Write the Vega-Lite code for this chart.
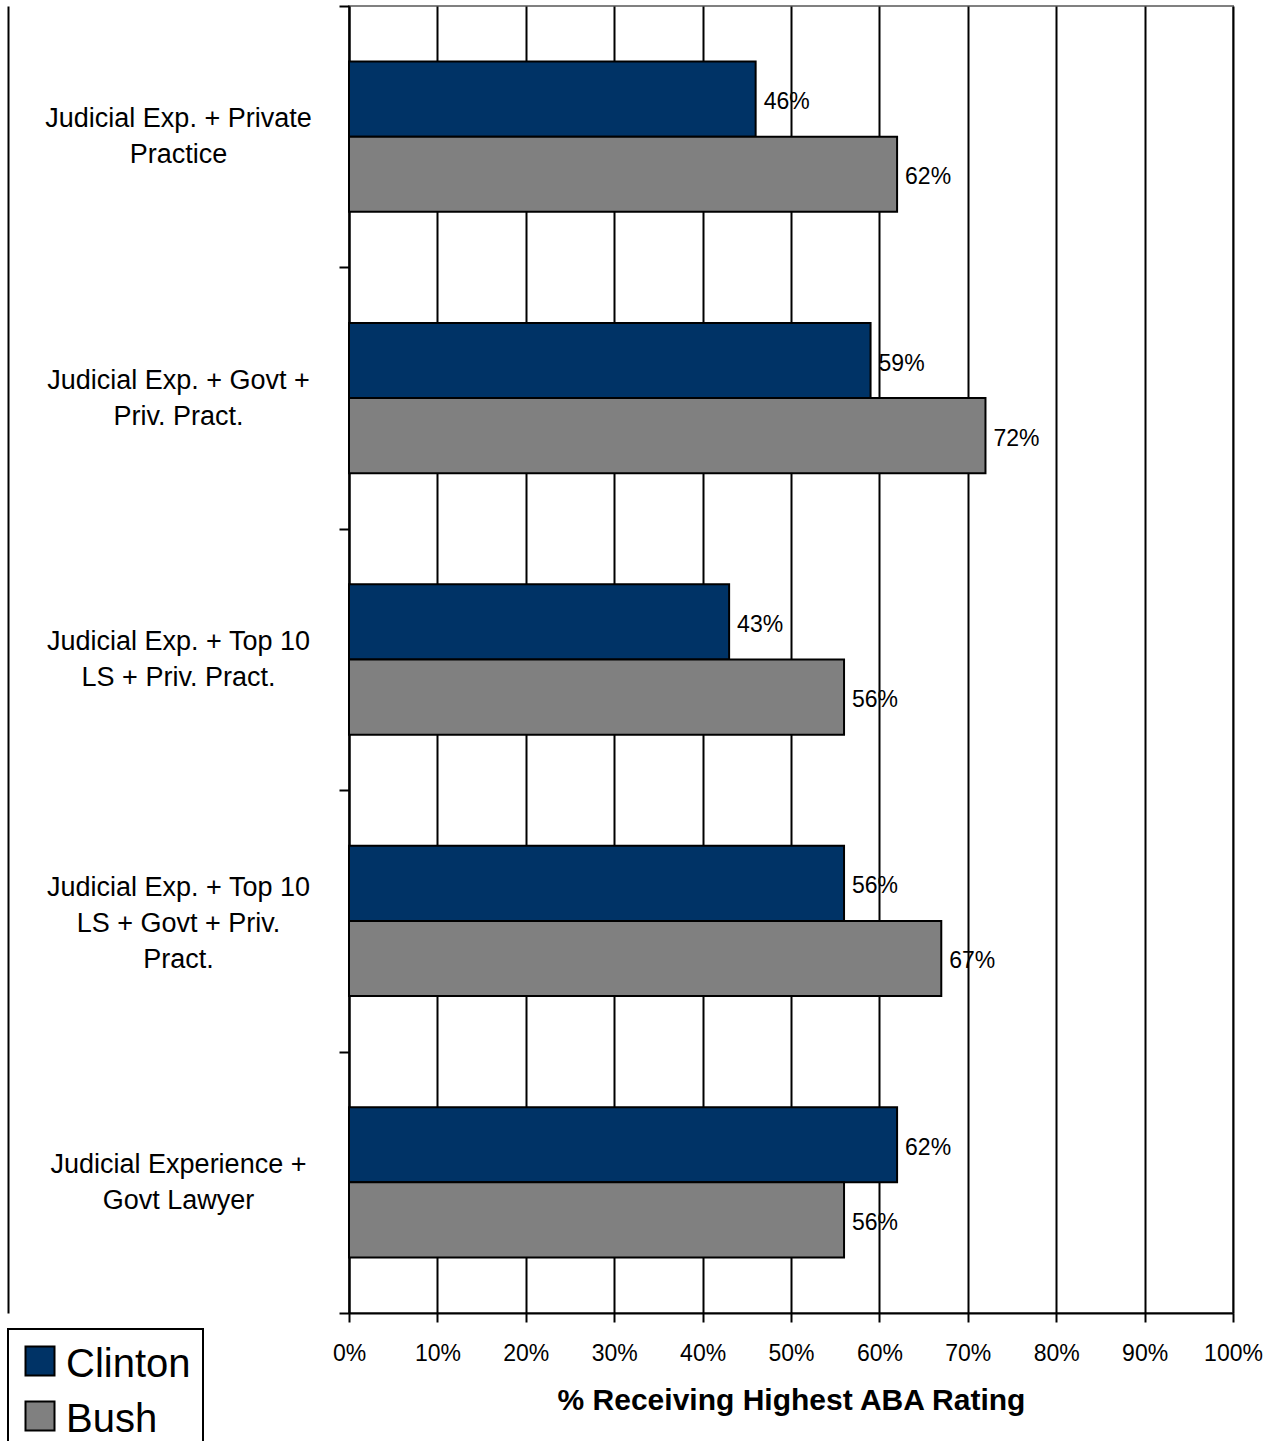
{
  "$schema": "https://vega.github.io/schema/vega-lite/v6.json",
  "width": 884,
  "height": 1307,
  "autosize": {"type": "none"},
  "padding": {"left": 349, "top": 6, "right": 51, "bottom": 128},
  "background": "white",
  "config": {
    "font": "Liberation Sans",
    "view": {"stroke": "#808080", "strokeWidth": 2},
    "axis": {"domainColor": "black", "domainWidth": 2, "tickColor": "black", "tickWidth": 2, "labelColor": "black", "titleColor": "black"}
  },
  "data": {
    "values": [
      {"group": "Judicial Exp. + Private|Practice", "president": "Clinton", "share": 0.46},
      {"group": "Judicial Exp. + Private|Practice", "president": "Bush", "share": 0.62},
      {"group": "Judicial Exp. + Govt +|Priv. Pract.", "president": "Clinton", "share": 0.59},
      {"group": "Judicial Exp. + Govt +|Priv. Pract.", "president": "Bush", "share": 0.72},
      {"group": "Judicial Exp. + Top 10|LS + Priv. Pract.", "president": "Clinton", "share": 0.43},
      {"group": "Judicial Exp. + Top 10|LS + Priv. Pract.", "president": "Bush", "share": 0.56},
      {"group": "Judicial Exp. + Top 10|LS + Govt + Priv.|Pract.", "president": "Clinton", "share": 0.56},
      {"group": "Judicial Exp. + Top 10|LS + Govt + Priv.|Pract.", "president": "Bush", "share": 0.67},
      {"group": "Judicial Experience +|Govt Lawyer", "president": "Clinton", "share": 0.62},
      {"group": "Judicial Experience +|Govt Lawyer", "president": "Bush", "share": 0.56}
    ]
  },
  "resolve": {"axis": {"y": "independent"}},
  "layer": [
    {
      "mark": {"type": "bar", "stroke": "black", "strokeWidth": 2},
      "encoding": {
        "y": {
          "field": "group",
          "type": "nominal",
          "sort": [
            "Judicial Exp. + Private|Practice",
            "Judicial Exp. + Govt +|Priv. Pract.",
            "Judicial Exp. + Top 10|LS + Priv. Pract.",
            "Judicial Exp. + Top 10|LS + Govt + Priv.|Pract.",
            "Judicial Experience +|Govt Lawyer"
          ],
          "scale": {"paddingInner": 0, "paddingOuter": 0},
          "axis": {
            "orient": "left",
            "title": null,
            "tickBand": "extent",
            "tickSize": 10,
            "labelExpr": "length(split(datum.label, '|')) == 2 ? split(datum.label, '|') : ''",
            "labelAlign": "center",
            "labelBaseline": "middle",
            "labelPadding": 161,
            "labelFontSize": 27,
            "labelLineHeight": 36,
            "labelOffset": -18,
            "labelLimit": 400,
            "grid": false
          }
        },
        "yOffset": {
          "field": "president",
          "type": "nominal",
          "sort": ["Clinton", "Bush"],
          "scale": {"paddingInner": 0, "paddingOuter": 0.739}
        },
        "x": {
          "field": "share",
          "type": "quantitative",
          "scale": {"domain": [0, 1], "nice": false},
          "axis": {
            "title": "% Receiving Highest ABA Rating",
            "format": ".0%",
            "values": [0, 0.1, 0.2, 0.3, 0.4, 0.5, 0.6, 0.7, 0.8, 0.9, 1],
            "grid": true,
            "gridColor": "black",
            "gridWidth": 2,
            "gridOpacity": 1,
            "tickSize": 9,
            "labelFontSize": 23,
            "labelPadding": 20,
            "labelFlush": false,
            "titleFontSize": 30,
            "titleFontWeight": "bold",
            "titlePadding": 20
          }
        },
        "fill": {
          "field": "president",
          "type": "nominal",
          "sort": ["Clinton", "Bush"],
          "scale": {"domain": ["Clinton", "Bush"], "range": ["#003366", "#808080"]},
          "legend": {
            "title": null,
            "orient": "none",
            "legendX": -341,
            "legendY": 1323,
            "direction": "vertical",
            "strokeColor": "black",
            "fillColor": "white",
            "padding": 12,
            "symbolType": "square",
            "symbolSize": 841,
            "symbolStrokeColor": "black",
            "symbolStrokeWidth": 2,
            "symbolOpacity": 1,
            "labelFontSize": 40,
            "labelColor": "black",
            "labelOffset": 6,
            "rowPadding": 11,
            "encode": {
              "legend": {"update": {"strokeWidth": {"value": 2}}},
              "labels": {"update": {"dy": {"value": 4}}},
              "symbols": {"update": {"dy": {"value": 4}}}
            }
          }
        }
      }
    },
    {
      "mark": {"type": "text", "align": "left", "baseline": "middle", "dx": 8, "dy": 3, "fontSize": 23, "color": "black"},
      "encoding": {
        "y": {
          "field": "group",
          "type": "nominal",
          "sort": [
            "Judicial Exp. + Private|Practice",
            "Judicial Exp. + Govt +|Priv. Pract.",
            "Judicial Exp. + Top 10|LS + Priv. Pract.",
            "Judicial Exp. + Top 10|LS + Govt + Priv.|Pract.",
            "Judicial Experience +|Govt Lawyer"
          ],
          "axis": {
            "orient": "left",
            "title": null,
            "ticks": false,
            "domain": false,
            "grid": false,
            "labelExpr": "length(split(datum.label, '|')) == 3 ? split(datum.label, '|') : ''",
            "labelAlign": "center",
            "labelBaseline": "middle",
            "labelPadding": 171,
            "labelFontSize": 27,
            "labelLineHeight": 36,
            "labelOffset": -33,
            "labelLimit": 400
          }
        },
        "yOffset": {"field": "president", "type": "nominal", "sort": ["Clinton", "Bush"]},
        "x": {"field": "share", "type": "quantitative"},
        "text": {"field": "share", "type": "quantitative", "format": ".0%"}
      }
    },
    {
      "mark": {"type": "text", "opacity": 0},
      "encoding": {
        "y": {
          "field": "group",
          "type": "nominal",
          "sort": [
            "Judicial Exp. + Private|Practice",
            "Judicial Exp. + Govt +|Priv. Pract.",
            "Judicial Exp. + Top 10|LS + Priv. Pract.",
            "Judicial Exp. + Top 10|LS + Govt + Priv.|Pract.",
            "Judicial Experience +|Govt Lawyer"
          ],
          "axis": {"orient": "left", "title": null, "labels": false, "ticks": false, "grid": false, "offset": 341, "domainColor": "black", "domainWidth": 2}
        },
        "x": {"field": "share", "type": "quantitative"},
        "text": {"field": "share", "type": "quantitative", "format": ".0%"}
      }
    }
  ]
}
